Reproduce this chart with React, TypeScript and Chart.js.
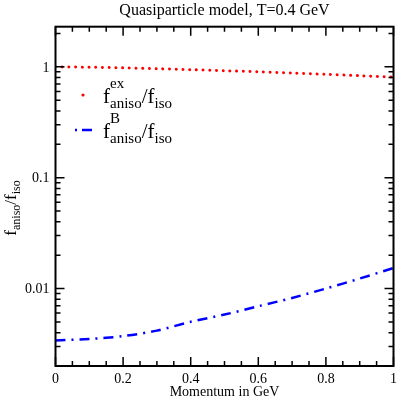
import React, { useEffect, useRef } from 'react';
import { Chart, registerables } from 'chart.js';

Chart.register(...registerables);

// ---- data ----
const momentum = [0, 0.1, 0.2, 0.3, 0.4, 0.5, 0.6, 0.7, 0.8, 0.9, 1.0];
const ratioEx = [1.0, 0.991, 0.978, 0.961, 0.942, 0.922, 0.901, 0.878, 0.855, 0.831, 0.807];
const ratioB = [0.0034, 0.00351, 0.00372, 0.00417, 0.00501, 0.00582, 0.00692, 0.00822, 0.0100, 0.0123, 0.0153];

const xTickValues = [0, 0.2, 0.4, 0.6, 0.8, 1];
const xTickLabels = ['0', '0.2', '0.4', '0.6', '0.8', '1'];
const yTickValues = [0.01, 0.1, 1];
const yTickLabels = ['0.01', '0.1', '1'];

const titleText = 'Quasiparticle model, T=0.4 GeV';
const xAxisTitle = 'Momentum in GeV';

const xMin = 0;
const xMax = 1;
const yMin = 0.002;
const yMax = 2.3;

const SERIF = '"Liberation Serif", "Times New Roman", serif';

type Part = { text: string; size: number; dy: number; group?: 'sup' | 'sub' };

function drawRich(ctx: CanvasRenderingContext2D, parts: Part[][], x: number, y: number, align: 'left' | 'center') {
  const widths = parts.map((cell) => {
    let base = 0;
    let extra = 0;
    for (const p of cell) {
      ctx.font = `${p.size}px ${SERIF}`;
      const w = ctx.measureText(p.text).width;
      if (p.group) extra = Math.max(extra, w);
      else base += w;
    }
    return base + extra;
  });
  const total = widths.reduce((a, b) => a + b, 0);
  let cx = align === 'center' ? x - total / 2 : x;
  ctx.textAlign = 'left';
  ctx.textBaseline = 'alphabetic';
  parts.forEach((cell, i) => {
    let bx = cx;
    for (const p of cell) {
      ctx.font = `${p.size}px ${SERIF}`;
      ctx.fillText(p.text, bx, y + p.dy);
      if (!p.group) bx += ctx.measureText(p.text).width;
    }
    cx += widths[i];
  });
}

const gracePlugin = {
  id: 'graceFrame',
  afterDatasetsDraw(chart: any) {
    const { ctx, chartArea: a, scales } = chart;
    const xs = scales.x;
    const ys = scales.y;
    ctx.save();
    ctx.strokeStyle = '#000';
    ctx.fillStyle = '#000';
    ctx.lineWidth = 1.5;
    ctx.setLineDash([]);

    for (let i = 0; i <= 20; i++) {
      const v = i / 20;
      const major = i % 4 === 0;
      const len = major ? 9 : 5;
      const px = xs.getPixelForValue(v);
      ctx.beginPath();
      ctx.moveTo(px, a.bottom);
      ctx.lineTo(px, a.bottom - len);
      ctx.moveTo(px, a.top);
      ctx.lineTo(px, a.top + len);
      ctx.stroke();
    }
    for (let k = -3; k <= 0; k++) {
      for (let m = 1; m <= 9; m++) {
        const v = m * Math.pow(10, k);
        if (v < yMin * 0.999 || v > yMax * 1.001) continue;
        const major = m === 1;
        const len = major ? 9 : 5;
        const py = ys.getPixelForValue(v);
        ctx.beginPath();
        ctx.moveTo(a.left, py);
        ctx.lineTo(a.left + len, py);
        ctx.moveTo(a.right, py);
        ctx.lineTo(a.right - len, py);
        ctx.stroke();
      }
    }
    ctx.lineWidth = 2;
    ctx.strokeRect(a.left, a.top, a.right - a.left, a.bottom - a.top);

    ctx.font = `14px ${SERIF}`;
    ctx.textBaseline = 'alphabetic';
    ctx.textAlign = 'center';
    xTickValues.forEach((v, i) => {
      ctx.fillText(xTickLabels[i], xs.getPixelForValue(v), a.bottom + 16.5);
    });
    ctx.textAlign = 'right';
    yTickValues.forEach((v, i) => {
      ctx.fillText(yTickLabels[i], a.left - 6, ys.getPixelForValue(v) + 4.8);
    });

    ctx.textAlign = 'center';
    ctx.font = `16px ${SERIF}`;
    ctx.fillText(titleText, (a.left + a.right) / 2, 14.5);

    ctx.font = `14px ${SERIF}`;
    ctx.fillText(xAxisTitle, (a.left + a.right) / 2, 395.5);

    ctx.save();
    ctx.translate(15.5, 208);
    ctx.rotate(-Math.PI / 2);
    drawRich(
      ctx,
      [
        [{ text: 'f', size: 17, dy: 0 }, { text: 'aniso', size: 12, dy: 4.5, group: 'sub' }],
        [{ text: '/', size: 17, dy: 0 }],
        [{ text: 'f', size: 17, dy: 0 }, { text: 'iso', size: 12, dy: 4.5, group: 'sub' }],
      ],
      0,
      0,
      'center'
    );
    ctx.restore();

    const ds0 = chart.data.datasets[0];
    const ds1 = chart.data.datasets[1];
    ctx.fillStyle = ds0.borderColor;
    ctx.beginPath();
    ctx.arc(83, 95, 1.6, 0, Math.PI * 2);
    ctx.fill();
    ctx.strokeStyle = ds1.borderColor;
    ctx.lineWidth = 2.5;
    ctx.setLineDash([2, 5, 10, 0]);
    ctx.beginPath();
    ctx.moveTo(75, 130);
    ctx.lineTo(92, 130);
    ctx.stroke();
    ctx.setLineDash([]);

    ctx.fillStyle = '#000';
    drawRich(
      ctx,
      [
        [
          { text: 'f', size: 21, dy: 0 },
          { text: 'ex', size: 15, dy: -14.5, group: 'sup' },
          { text: 'aniso', size: 15, dy: 5.5, group: 'sub' },
        ],
        [{ text: '/', size: 21, dy: 0 }],
        [{ text: 'f', size: 21, dy: 0 }, { text: 'iso', size: 15, dy: 5.5, group: 'sub' }],
      ],
      103,
      102.8,
      'left'
    );
    drawRich(
      ctx,
      [
        [
          { text: 'f', size: 21, dy: 0 },
          { text: 'B', size: 15, dy: -14.5, group: 'sup' },
          { text: 'aniso', size: 15, dy: 5.5, group: 'sub' },
        ],
        [{ text: '/', size: 21, dy: 0 }],
        [{ text: 'f', size: 21, dy: 0 }, { text: 'iso', size: 15, dy: 5.5, group: 'sub' }],
      ],
      103,
      137.8,
      'left'
    );

    ctx.restore();
  },
};

export default function App() {
  const canvasRef = useRef<HTMLCanvasElement | null>(null);

  useEffect(() => {
    const canvas = canvasRef.current;
    if (!canvas) return;
    const chart = new Chart(canvas, {
      type: 'line',
      data: {
        datasets: [
          {
            label: 'f^ex_aniso/f_iso',
            data: momentum.map((p, i) => ({ x: p, y: ratioEx[i] })),
            borderColor: '#ff0000',
            backgroundColor: '#ff0000',
            borderWidth: 3,
            borderDash: [0.01, 6.7],
            borderCapStyle: 'round',
            pointRadius: 0,
            tension: 0.3,
            fill: false,
          },
          {
            label: 'f^B_aniso/f_iso',
            data: momentum.map((p, i) => ({ x: p, y: ratioB[i] })),
            borderColor: '#0000ff',
            backgroundColor: '#0000ff',
            borderWidth: 2.5,
            borderDash: [10, 6, 2, 6],
            borderCapStyle: 'butt',
            pointRadius: 0,
            tension: 0.3,
            fill: false,
          },
        ],
      },
      options: {
        animation: false,
        responsive: false,
        devicePixelRatio: 1,
        layout: { padding: { left: 55.5, top: 26.7, right: 4.5, bottom: 34 } },
        plugins: {
          legend: { display: false },
          title: { display: false },
          tooltip: { enabled: false },
        },
        scales: {
          x: { type: 'linear', min: xMin, max: xMax, display: false },
          y: { type: 'logarithmic', min: yMin, max: yMax, display: false },
        },
      },
      plugins: [gracePlugin],
    } as any);
    return () => chart.destroy();
  }, []);

  return (
    <div style={{ position: 'fixed', left: 0, top: 0, width: 398, height: 400, background: '#fff' }}>
      <canvas ref={canvasRef} width={398} height={400} style={{ width: 398, height: 400, display: 'block' }} />
    </div>
  );
}
